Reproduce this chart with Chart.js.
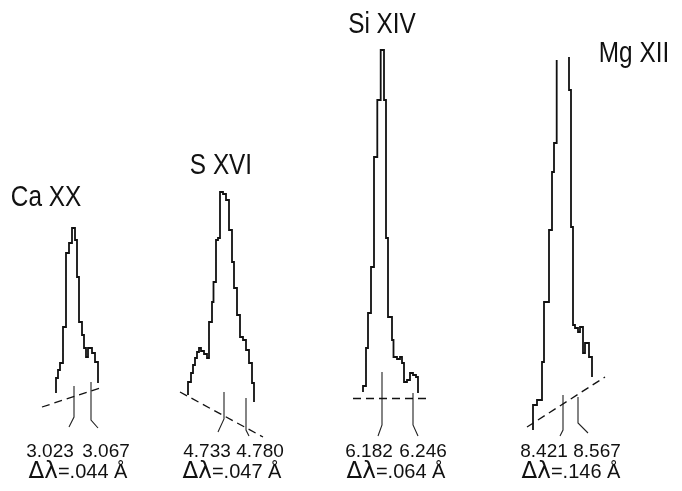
<!DOCTYPE html>
<html>
<head>
<meta charset="utf-8">
<script src="https://cdn.jsdelivr.net/npm/chart.js@4/dist/chart.umd.min.js"></script>
<style>
  html, body { margin: 0; padding: 0; background: #fff; }
  #plate { display: block; }
</style>
</head>
<body>
<canvas id="plate" width="682" height="491"></canvas>
<script>
// the plate is one hidden linear frame: x across the page, y down the page
// each profile is a stepped trace, given as (edge, level) pairs

const ionNames = ['Ca XX', 'S XVI', 'Si XIV', 'Mg XII']
const lineWavelengths = [['3.023', '3.067'], ['4.733', '4.780'], ['6.182', '6.246'], ['8.421', '8.567']]
const lineWidths = ['.044', '.047', '.064', '.146']

// Ca XX
const caEdges  = [56, 56, 58, 60, 63, 66, 69, 72, 75, 77, 79, 82, 84, 86, 88, 92, 95, 98]
const caLevels = [393, 378, 370, 363, 327, 253, 243, 228, 240, 277, 322, 335, 348, 357, 348, 353, 362, 383]
// S XVI
const sEdges  = [188, 188, 191, 193, 195, 197, 199, 201, 204, 207, 209, 212, 213.5, 216, 218, 220, 223, 226, 229, 232, 234, 237, 240, 243, 246, 249, 252, 254]
const sLevels = [395, 382, 373, 365, 358, 352, 348, 351, 354, 358, 322, 302, 282, 240, 238, 192, 194, 200, 230, 262, 288, 315, 337, 340, 350, 363, 383, 402]
// Si XIV
const siEdges  = [363, 363, 366, 368, 371, 374, 377.3, 380.7, 384, 386, 388, 392, 393.5, 397, 400, 402, 404, 407, 410, 413, 416, 418]
const siLevels = [392, 386, 348, 313, 267, 157, 100, 50, 100, 238, 317, 340, 357, 359, 357, 363, 382, 380, 373, 375, 377, 393]
// Mg XII (peak runs off the top, so the trace is open there)
const mgEdges  = [533, 533, 537, 542, 544, 549, 552, 554, 556.7, 563, 569, 569, 571, 573, 575, 578, 580, 583, 585, 589, 592]
const mgLevels = [430, 405, 400, 362, 302, 230, 172, 143, 60, null, 57, 90, 227, 325, 328, 332, 327, 353, 343, 357, 377]

// dashed continuum lines, [x0, y0, x1, y1]
const baselines = [[42, 407, 103, 387], [180, 392, 263, 437], [353, 398.5, 428, 398.5], [527, 427, 605, 377]]
// wavelength fiducials, [xTop, yTop, yBend, xFoot, yFoot]
const fiducials = [
  [74, 386, 417, 69, 427], [91, 382, 420, 98, 428],
  [224, 392, 419, 218, 432], [246, 398, 430, 249, 436],
  [382, 372, 425, 378, 436], [413, 393, 425, 418, 436],
  [563, 395, 430, 560, 436], [578, 397, 423, 588, 433]
]

// text anchors (centre x, baseline y)
const titleSpots = [[46, 206], [221, 174], [382, 33], [634, 62]]
const numberSpots = [[[50, 457], [106, 457]], [[207, 457], [260, 457]], [[369, 457], [423, 457]], [[544, 457], [597, 457]]]
const widthSpots = [[78, 478], [232, 478], [396, 478], [571, 478]]

const toPoints = (xs, ys) => xs.map((x, i) => ({ x: x, y: ys[i] }))

const profileSet = (xs, ys) => ({
  data: toPoints(xs, ys),
  borderColor: '#111',
  borderWidth: 1.8,
  stepped: 'before',
  spanGaps: false,
  pointRadius: 0,
  fill: false
})

const datasets = [
  profileSet(caEdges, caLevels),
  profileSet(sEdges, sLevels),
  profileSet(siEdges, siLevels),
  profileSet(mgEdges, mgLevels)
]

baselines.forEach(b => {
  datasets.push({
    data: [{ x: b[0], y: b[1] }, { x: b[2], y: b[3] }],
    borderColor: '#111',
    borderWidth: 1.3,
    borderDash: [8, 5],
    pointRadius: 0
  })
})

fiducials.forEach(f => {
  datasets.push({
    data: [{ x: f[0], y: f[1] }, { x: f[0], y: f[2] }, { x: f[3], y: f[4] }],
    borderColor: '#222',
    borderWidth: 1.1,
    pointRadius: 0,
    tension: 0
  })
})

// labels go through the same scales as the traces
const labelPlugin = {
  id: 'plateLabels',
  afterDraw: (chart) => {
    const ctx = chart.ctx
    const xs = chart.scales.x
    const ys = chart.scales.y
    ctx.save()
    ctx.fillStyle = '#111'
    ctx.textBaseline = 'alphabetic'

    // ion names: squeezed sideways to get the narrow face of the plate
    ctx.textAlign = 'center'
    ctx.font = '29px "Liberation Sans", sans-serif'
    ionNames.forEach((name, i) => {
      const px = xs.getPixelForValue(titleSpots[i][0])
      const py = ys.getPixelForValue(titleSpots[i][1])
      ctx.save()
      ctx.translate(px, py)
      ctx.scale(0.84, 1)
      ctx.fillText(name, 0, 0)
      ctx.restore()
    })

    ctx.font = '19px "Liberation Sans", sans-serif'
    lineWavelengths.forEach((pair, i) => {
      pair.forEach((w, j) => {
        ctx.fillText(w, xs.getPixelForValue(numberSpots[i][j][0]), ys.getPixelForValue(numberSpots[i][j][1]))
      })
    })

    // delta lambda row, the greek part set a bit larger
    ctx.textAlign = 'left'
    lineWidths.forEach((w, i) => {
      const greek = '\u0394\u03bb'
      const rest = '=' + w + ' \u00c5'
      ctx.font = '23px "DejaVu Sans", sans-serif'
      const gw = ctx.measureText(greek).width
      ctx.font = '20px "Liberation Sans", sans-serif'
      const rw = ctx.measureText(rest).width
      const left = xs.getPixelForValue(widthSpots[i][0]) - (gw + rw) / 2
      const base = ys.getPixelForValue(widthSpots[i][1])
      ctx.font = '23px "DejaVu Sans", sans-serif'
      ctx.fillText(greek, left, base)
      ctx.font = '20px "Liberation Sans", sans-serif'
      ctx.fillText(rest, left + gw, base)
    })
    ctx.restore()
  }
}

const plate = new Chart(document.querySelector('#plate'), {
  type: 'line',
  data: { datasets: datasets },
  options: {
    responsive: false,
    animation: false,
    layout: { padding: 0 },
    scales: {
      x: { type: 'linear', min: 0, max: 682, display: false },
      y: { type: 'linear', min: 0, max: 491, reverse: true, display: false }
    },
    plugins: {
      legend: { display: false },
      tooltip: { enabled: false }
    }
  },
  plugins: [labelPlugin]
})
</script>
</body>
</html>
